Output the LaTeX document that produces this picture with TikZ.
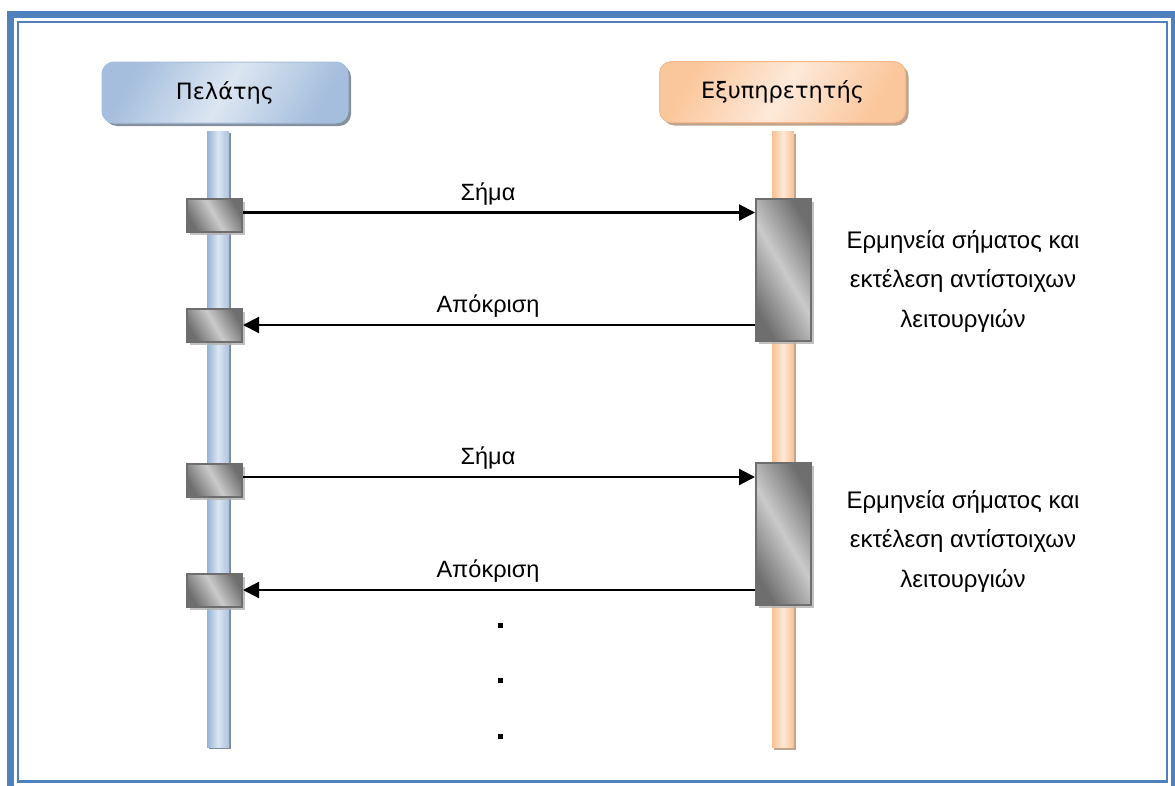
\documentclass[tikz,border=0pt]{standalone}
\usepackage{fontspec}
\setmainfont{Liberation Sans}
\newfontfamily\hdrfont{DejaVu Sans}
\usetikzlibrary{arrows.meta,shadows}
\definecolor{frameblue}{HTML}{4F81BD}
\definecolor{cliedge}{HTML}{95B3D7}
\definecolor{climid}{HTML}{DCE6F2}
\definecolor{cliline}{HTML}{A7BFDE}
\definecolor{sryedge}{HTML}{FAC090}
\definecolor{srvmid}{HTML}{FDE9D9}
\definecolor{srvline}{HTML}{F9B98A}
\definecolor{boxdark}{HTML}{6E6E6E}
\definecolor{boxlight}{HTML}{CACACA}
\tikzset{
  hdr/.style={rounded corners=12pt, minimum width=246pt, minimum height=61pt,
    inner sep=0pt, font=\hdrfont\fontsize{22.5}{26}\selectfont},
  clihdr/.style={hdr, draw=cliline, line width=1pt,
    left color=cliedge!85, right color=cliedge!85, middle color=climid, shading angle=60,
    drop shadow={shadow xshift=3pt, shadow yshift=-3pt, fill=black!45!cliedge, opacity=.7}},
  srvhdr/.style={hdr, draw=srvline, line width=1pt,
    left color=sryedge!90, right color=sryedge!90, middle color=srvmid, shading angle=60,
    drop shadow={shadow xshift=3pt, shadow yshift=-3pt, fill=black!35!sryedge, opacity=.7}},
  life/.style={minimum width=22pt, minimum height=616pt, inner sep=0pt},
  clilife/.style={life, left color=cliedge, right color=cliedge!80, middle color=climid,
    drop shadow={shadow xshift=2pt, shadow yshift=-2pt, fill=black!50!cliedge, opacity=.7}},
  srvlife/.style={life, left color=sryedge, right color=sryedge, middle color=srvmid,
    drop shadow={shadow xshift=2pt, shadow yshift=-2pt, fill=black!35!sryedge, opacity=.7}},
  actbox/.style={draw=boxdark, line width=2pt, minimum width=55pt, inner sep=0pt,
    left color=boxdark, right color=boxdark, middle color=boxlight, shading angle=120,
    drop shadow={shadow xshift=3pt, shadow yshift=-3pt, fill=gray!60, opacity=.8}},
  cbox/.style={actbox, minimum height=33pt},
  sbox/.style={actbox, minimum height=142pt},
  msg/.style={line width=2.2pt, -{Triangle[length=16pt,width=16pt]}},
  lbl/.style={font=\fontsize{23.5}{27}\selectfont, midway, above=3pt, xshift=-11pt},
  note/.style={align=center, font=\fontsize{24}{39.5}\selectfont},
  dotmark/.style={fill=black, minimum size=5pt, inner sep=0pt},
}
\begin{document}
\begin{tikzpicture}[x=1pt, y=-1pt]
\useasboundingbox (0,0) rectangle (1175,785);
\clip (0,0) rectangle (1175,785);
% frame
\draw[frameblue, line width=7pt] (10.5,14.5) rectangle (1174.5,789);
\draw[frameblue, line width=2.5pt] (18,22) rectangle (1167,781.5);
% lifelines
\node[clilife] (cl) at (218,439) {};
\node[srvlife] (sl) at (783,439.5) {};
% headers
\node[clihdr] (ch) at (225,92.5) {Πελάτης};
\node[srvhdr] (sh) at (782.5,92) {Εξυπηρετητής};
% activation boxes
\node[cbox] (c1) at (214.5,215.5) {};
\node[cbox] (c2) at (214.5,325) {};
\node[cbox] (c3) at (214.5,480) {};
\node[cbox] (c4) at (214.5,590) {};
\node[sbox] (s1) at (783.5,270) {};
\node[sbox] (s2) at (783.5,534) {};
% messages
\coordinate (a1) at ([yshift=3pt]c1.east);
\draw[msg] (a1) -- (s1.west |- a1) node[lbl] {Σήμα};
\coordinate (a2) at (s1.west |- c2.east);
\draw[msg] (a2) -- (c2.east) node[lbl] {Απόκριση};
\coordinate (a3) at ([yshift=3pt]c3.east);
\draw[msg] (a3) -- (s2.west |- a3) node[lbl] {Σήμα};
\coordinate (a4) at (s2.west |- c4.east);
\draw[msg] (a4) -- (c4.east) node[lbl] {Απόκριση};
% notes
\node[note] (n1) at (963,281) {Ερμηνεία σήματος και\\εκτέλεση αντίστοιχων\\λειτουργιών};
\node[note] (n2) at (963,541) {Ερμηνεία σήματος και\\εκτέλεση αντίστοιχων\\λειτουργιών};
% continuation dots
\node[dotmark] (d1) at (500,625) {};
\node[dotmark] (d2) at (500,680) {};
\node[dotmark] (d3) at (500,736) {};
\end{tikzpicture}
\end{document}
